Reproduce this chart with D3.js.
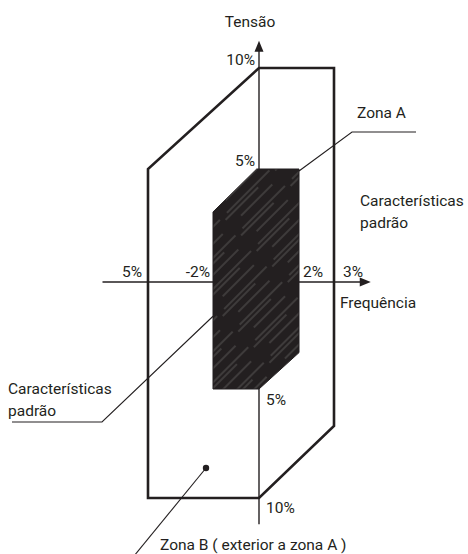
<!DOCTYPE html>
<html>
<head>
<meta charset="utf-8">
<script src="https://cdn.jsdelivr.net/npm/d3@7"></script>
<style>
  html, body { margin: 0; padding: 0; background: #fff; }
  svg text { font-family: Roboto, "Liberation Sans", sans-serif; font-size: 15.5px; fill: #231f20; }
</style>
</head>
<body>
<svg id="chart" width="468" height="554"></svg>
<script>
// frequency (%) on x, voltage (%) on y
const freqTicks = [-5, -2, 2, 3];
const freqLabels = ["5%", "-2%", "2%", "3%"];
const voltTicks = [10, 5, -5, -10];
const voltLabels = ["10%", "5%", "5%", "10%"];

// outer tolerance area (zona B) and standard area (zona A)
const zoneB = [[0, 10], [3, 10], [3, -6.7], [0, -10], [-5, -10], [-5, 5]];
const zoneA = [[-0.1, 5], [2, 5], [2, -3.3], [0, -5], [-2, -5], [-2, 3.1]];

const freqExtent = [-7.1, 4.05];
const voltExtent = [-11.2, 11.35];

// schematic drawing: piecewise scales, not proportional
const x = d3.scaleLinear().domain([-5, -2, 0, 2, 3]).range([148, 213, 259, 299, 334]);
const y = d3.scaleLinear().domain([-10, -5, 0, 5, 10]).range([498, 389, 282, 169, 68]);

const svg = d3.select("#chart");
const line = d3.line().x((d) => x(d[0])).y((d) => y(d[1]));

const defs = svg.append("defs");
const hatch = defs
  .append("pattern")
  .attr("id", "hatch")
  .attr("patternUnits", "userSpaceOnUse")
  .attr("width", 22)
  .attr("height", 70)
  .attr("patternTransform", "rotate(45)");
hatch.append("rect").attr("width", 22).attr("height", 70).attr("fill", "#231f20");
[[3, 0, 60], [7, 20, 66], [15, 8, 52]].forEach((d) => {
  hatch
    .append("line")
    .attr("x1", d[0])
    .attr("x2", d[0])
    .attr("y1", d[1])
    .attr("y2", d[2])
    .attr("stroke", "#7a7a7a")
    .attr("stroke-width", 0.6);
});

// zona B outline
svg
  .append("path")
  .attr("d", line(zoneB) + "Z")
  .attr("fill", "none")
  .attr("stroke", "#231f20")
  .attr("stroke-width", 2.6)
  .attr("stroke-linejoin", "miter");

// axes
const axes = svg.append("g").attr("stroke", "#231f20").attr("stroke-width", 1.4);
axes
  .append("line")
  .attr("x1", x(0))
  .attr("x2", x(0))
  .attr("y1", y(voltExtent[0]))
  .attr("y2", y(voltExtent[1]) + 8);
axes
  .append("line")
  .attr("x1", x(freqExtent[0]))
  .attr("x2", x(freqExtent[1]) - 8)
  .attr("y1", y(0))
  .attr("y2", y(0));

const tipY = y(voltExtent[1]);
svg
  .append("path")
  .attr("d", `M${x(0)},${tipY} l-4.5,11 h9 Z`)
  .attr("fill", "#231f20");
const tipX = x(freqExtent[1]);
svg
  .append("path")
  .attr("d", `M${tipX},${y(0)} l-11,-4.5 v9 Z`)
  .attr("fill", "#231f20");

// zona A
svg
  .append("path")
  .attr("d", line(zoneA) + "Z")
  .attr("fill", "url(#hatch)")
  .attr("stroke", "#231f20")
  .attr("stroke-width", 1);

// tick labels
svg
  .selectAll(".flab")
  .data(freqTicks)
  .enter()
  .append("text")
  .attr("class", "flab")
  .attr("x", (d) => (d < 0 ? x(d) - (d === -5 ? 6 : 3) : x(d) + (d === 3 ? 9 : 4)))
  .attr("y", y(0) - 5)
  .attr("text-anchor", (d) => (d < 0 ? "end" : "start"))
  .text((d, i) => freqLabels[i]);

svg
  .selectAll(".vlab")
  .data(voltTicks)
  .enter()
  .append("text")
  .attr("class", "vlab")
  .attr("x", (d) => (d > 0 ? x(0) - 4 : x(0) + 7))
  .attr("y", (d) => (d > 0 ? y(d) - 3 : y(d) + (d === -5 ? 16 : 15)))
  .attr("text-anchor", (d) => (d > 0 ? "end" : "start"))
  .text((d, i) => voltLabels[i]);

// axis titles
svg.append("text").attr("x", 250).attr("y", 27).attr("text-anchor", "middle").text("Tensão");
svg.append("text").attr("x", 340).attr("y", 308).text("Frequência");

// annotations
const leader = svg
  .append("g")
  .attr("fill", "none")
  .attr("stroke", "#231f20")
  .attr("stroke-width", 1.1);

svg.append("text").attr("x", 357).attr("y", 118).text("Zona A");
leader
  .append("path")
  .attr("d", d3.line()([[416, 132], [352, 132], [x(2), y(5) + 2]]));

svg.append("text").attr("x", 360).attr("y", 206).text("Características");
svg.append("text").attr("x", 360).attr("y", 228).text("padrão");

svg.append("text").attr("x", 8).attr("y", 394).text("Características");
svg.append("text").attr("x", 8).attr("y", 416).text("padrão");
leader
  .append("path")
  .attr("d", d3.line()([[12, 422], [102, 422], [x(-2), y(-1.6)]]));

svg
  .append("circle")
  .attr("cx", 206)
  .attr("cy", 468)
  .attr("r", 3.2)
  .attr("fill", "#231f20");
leader.append("path").attr("d", d3.line()([[206, 468], [134, 556]]));
svg.append("text").attr("x", 160).attr("y", 550).text("Zona B ( exterior a zona A )");
</script>
</body>
</html>
